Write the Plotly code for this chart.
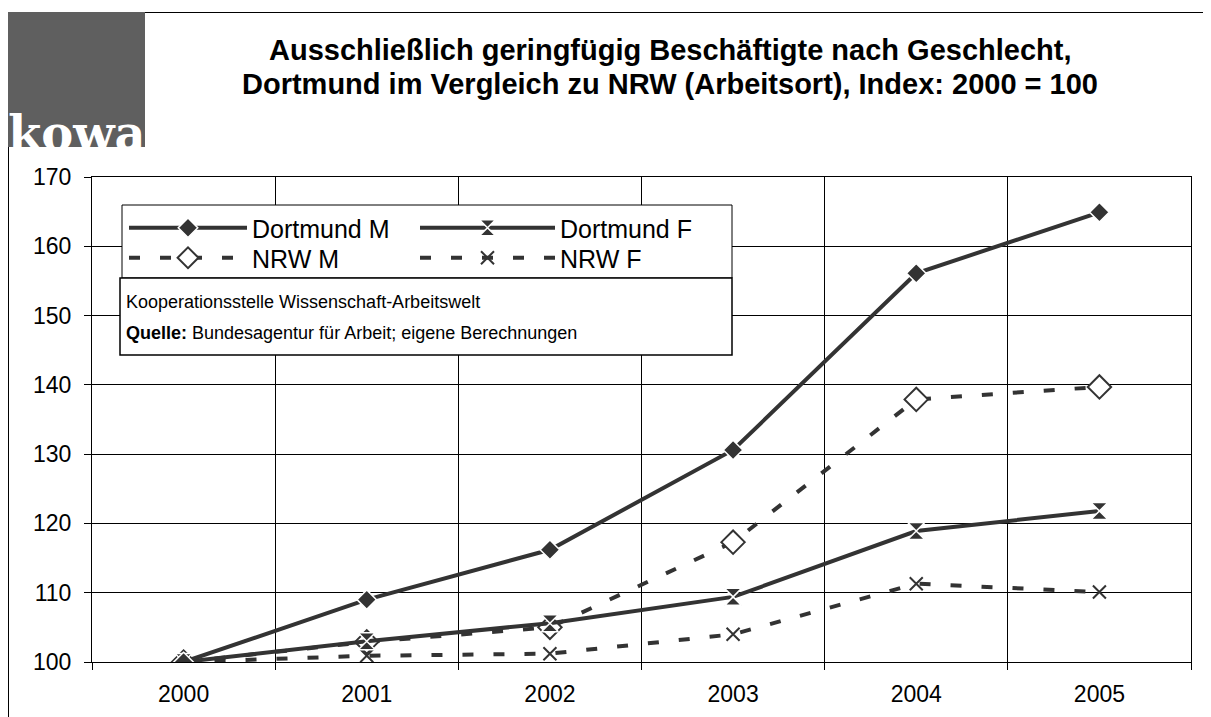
import plotly.graph_objects as go

years = ["2000", "2001", "2002", "2003", "2004", "2005"]
dortmund_m = [100.0, 109.0, 116.2, 130.6, 156.1, 164.9]
dortmund_f = [100.0, 103.0, 105.6, 109.4, 118.9, 121.8]
nrw_m = [100.0, 102.9, 105.0, 117.3, 137.9, 139.7]
nrw_f = [100.0, 100.9, 101.2, 104.0, 111.3, 110.1]
y_ticks = [100, 110, 120, 130, 140, 150, 160, 170]

title_line1 = "Ausschließlich geringfügig Beschäftigte nach Geschlecht,"
title_line2 = "Dortmund im Vergleich zu NRW (Arbeitsort), Index: 2000 = 100"
note_line1 = "Kooperationsstelle Wissenschaft-Arbeitswelt"
note_line2 = "<b>Quelle:</b> Bundesagentur für Arbeit; eigene Berechnungen"

# page has an 8px body margin; figure is sized to fit the 1211x717 window
OFF = 8
W, H = 1211 - OFF, 717 - OFF
# plot area in screen coordinates
SX0, SX1, SY0, SY1 = 92, 1191, 177, 662
L, R = SX0 - OFF, W - (SX1 - OFF)
T, B = SY0 - OFF, H - (SY1 - OFF)
PW, PH = SX1 - SX0, SY1 - SY0


def px(x):
    return (x - SX0) / PW


def py(y):
    return (SY1 - y) / PH


LINE = "#333333"
FONT = "Liberation Sans, Arial, sans-serif"

fig = go.Figure()
fig.add_trace(go.Scatter(
    x=years, y=nrw_f, name="NRW F", legend="legend4",
    mode="lines+markers",
    line=dict(color=LINE, width=4, dash="11px,20px"),
    marker=dict(symbol="x-thin", size=13, color=LINE, line=dict(color=LINE, width=2)),
))
fig.add_trace(go.Scatter(
    x=years, y=nrw_m, name="NRW M", legend="legend3",
    mode="lines+markers",
    line=dict(color=LINE, width=4, dash="11px,20px"),
    marker=dict(symbol="diamond", size=18, color="white", line=dict(color=LINE, width=2)),
))
fig.add_trace(go.Scatter(
    x=years, y=dortmund_f, name="Dortmund F", legend="legend2",
    mode="lines+markers",
    line=dict(color=LINE, width=4),
    marker=dict(symbol="hourglass", size=17, color=LINE, line=dict(color="white", width=1.5)),
))
fig.add_trace(go.Scatter(
    x=years, y=dortmund_m, name="Dortmund M", legend="legend",
    mode="lines+markers",
    line=dict(color=LINE, width=4),
    marker=dict(symbol="diamond", size=15, color=LINE, line=dict(color="white", width=1.5)),
))

legend_common = dict(
    orientation="v", bgcolor="rgba(0,0,0,0)", borderwidth=0,
    font=dict(family=FONT, size=25, color="black"),
    yanchor="middle", xanchor="left", itemclick=False,
)
COL1_W, COL2_W = 118, 135
COL1_X, COL2_X = 124, 415
ROW1_Y, ROW2_Y = 228, 258

fig.update_layout(
    width=W, height=H,
    margin=dict(l=L, r=R, t=T, b=B, autoexpand=False),
    paper_bgcolor="white", plot_bgcolor="white",
    font=dict(family=FONT, color="black"),
    showlegend=True,
    legend=dict(x=px(COL1_X), y=py(ROW1_Y), itemwidth=COL1_W, **legend_common),
    legend2=dict(x=px(COL2_X), y=py(ROW1_Y), itemwidth=COL2_W, **legend_common),
    legend3=dict(x=px(COL1_X), y=py(ROW2_Y), itemwidth=COL1_W, **legend_common),
    legend4=dict(x=px(COL2_X), y=py(ROW2_Y), itemwidth=COL2_W, **legend_common),
    xaxis=dict(
        type="category", tickson="boundaries",
        showgrid=True, gridcolor="black", gridwidth=1,
        showline=True, linecolor="black", linewidth=1, mirror=True,
        ticks="outside", ticklen=7, tickcolor="black",
        ticklabelstandoff=11, automargin=False,
        tickfont=dict(family=FONT, size=23, color="black"),
        range=[-0.5, 5.5], fixedrange=True,
    ),
    yaxis=dict(
        range=[100, 170], tickvals=y_ticks,
        showgrid=True, gridcolor="black", gridwidth=1,
        showline=True, linecolor="black", linewidth=1, mirror=True,
        ticks="outside", ticklen=7, tickcolor="black",
        ticklabelstandoff=8, automargin=False,
        tickfont=dict(family=FONT, size=23, color="black"),
        zeroline=False, fixedrange=True,
    ),
    shapes=[
        # logo box
        dict(type="rect", xref="paper", yref="paper", layer="above",
             x0=px(8), x1=px(145), y0=py(147), y1=py(12),
             fillcolor="#5f5f5f", line=dict(width=0)),
        # outer frame lines
        dict(type="line", xref="paper", yref="paper", layer="above",
             x0=px(145), x1=px(1211), y0=py(12.5), y1=py(12.5),
             line=dict(color="black", width=1)),
        dict(type="line", xref="paper", yref="paper", layer="above",
             x0=px(8.5), x1=px(8.5), y0=py(147), y1=py(717),
             line=dict(color="black", width=1)),
        # legend box
        dict(type="rect", xref="paper", yref="paper", layer="above",
             x0=px(122), x1=px(732), y0=py(278), y1=py(205),
             fillcolor="white", line=dict(color="black", width=1)),
        # note box
        dict(type="rect", xref="paper", yref="paper", layer="above",
             x0=px(120), x1=px(732), y0=py(355), y1=py(278),
             fillcolor="white", line=dict(color="black", width=1.5)),
    ],
    annotations=[
        dict(text="<b>" + title_line1 + "</b>",
             xref="paper", yref="paper", x=px(670), y=py(50),
             xanchor="center", yanchor="middle", showarrow=False,
             font=dict(family=FONT, size=29, color="black")),
        dict(text="<b>" + title_line2 + "</b>",
             xref="paper", yref="paper", x=px(670), y=py(84),
             xanchor="center", yanchor="middle", showarrow=False,
             font=dict(family=FONT, size=29, color="black")),
        dict(text="<b>kowa</b>", xref="paper", yref="paper",
             x=px(6), y=py(133), xanchor="left", yanchor="middle",
             showarrow=False,
             font=dict(family="DejaVu Serif", size=48, color="white")),
        dict(text=note_line1, xref="paper", yref="paper",
             x=px(124), y=py(302), xanchor="left", yanchor="middle",
             align="left", showarrow=False,
             font=dict(family=FONT, size=18, color="black")),
        dict(text=note_line2, xref="paper", yref="paper",
             x=px(124), y=py(333), xanchor="left", yanchor="middle",
             align="left", showarrow=False,
             font=dict(family=FONT, size=18, color="black")),
    ],
)

fig.write_html("out.html")
